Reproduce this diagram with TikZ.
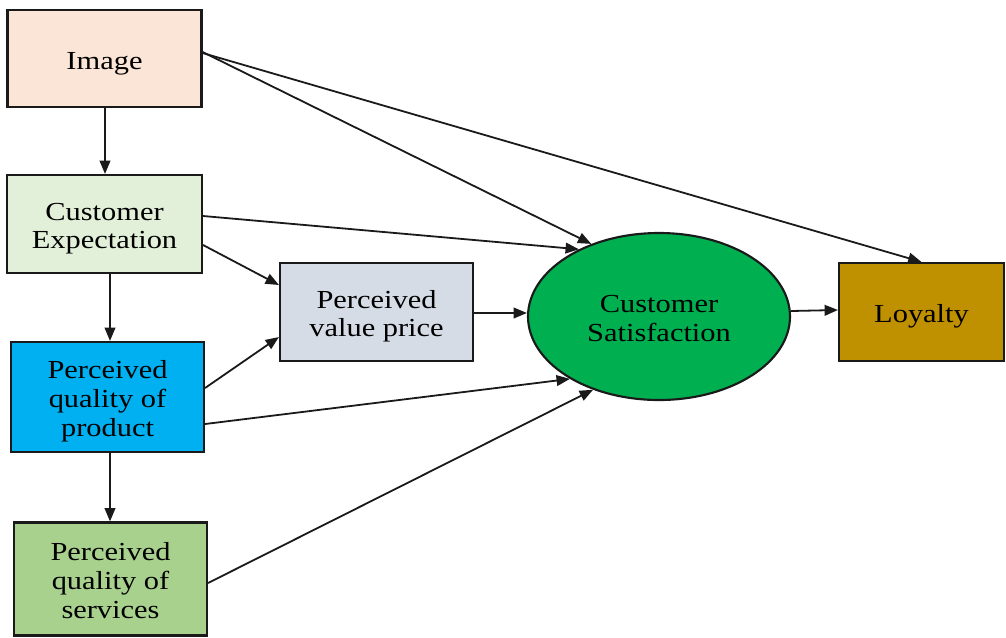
\documentclass[tikz,border=0pt]{standalone}
\usepackage{fontspec}
\setmainfont{Liberation Serif}[FakeStretch=1.17]
\usetikzlibrary{arrows.meta,shapes.geometric}
\definecolor{cimg}{HTML}{FBE5D6}
\definecolor{cexp}{HTML}{E2F0D9}
\definecolor{cprod}{HTML}{00B0F0}
\definecolor{cserv}{HTML}{A9D18E}
\definecolor{cvp}{HTML}{D6DCE5}
\definecolor{csat}{HTML}{00B050}
\definecolor{cloy}{HTML}{BF9000}
\definecolor{cline}{HTML}{1A1A1A}
\newcommand{\lbltxt}[1]{\raisebox{-3.6pt}[\height][\depth]{\begin{tabular}{@{}c@{}}#1\end{tabular}}}
\tikzset{
  box/.style={draw=cline, line width=1.6pt, rectangle, inner sep=0pt,
    font=\fontsize{19.5}{21.5}\selectfont},
  conn/.style={draw=cline, line width=1.35pt, -{Triangle[length=10pt,width=8pt]}}
}
\begin{document}
\begin{tikzpicture}[x=0.75pt,y=-0.75pt]
\useasboundingbox (0,0) rectangle (1006,637);
\node[box, fill=cimg, minimum width=0.75*194pt, minimum height=0.75*97pt] (img) at (104.5,58.5) {\lbltxt{Image}};
\node[box, fill=cexp, minimum width=0.75*195pt, minimum height=0.75*98pt] (exp) at (104.5,224) {\lbltxt{Customer\\Expectation}};
\node[box, fill=cprod, minimum width=0.75*193pt, minimum height=0.75*110pt] (prod) at (107.5,397) {\lbltxt{Perceived\\quality of\\product}};
\node[box, fill=cserv, minimum width=0.75*193pt, minimum height=0.75*113pt] (serv) at (110.5,579) {\lbltxt{Perceived\\quality of\\services}};
\node[box, fill=cvp, minimum width=0.75*193pt, minimum height=0.75*98pt] (vp) at (376.5,312) {\lbltxt{Perceived\\value price}};
\node[box, ellipse, fill=csat, minimum width=0.75*262pt, minimum height=0.75*167pt] (sat) at (659,316.5) {\lbltxt{Customer\\Satisfaction}};
\node[box, fill=cloy, minimum width=0.75*165pt, minimum height=0.75*98pt] (loy) at (921.5,312) {\lbltxt{Loyalty}};

\draw[conn] (img.south -| 105,0) -- (exp.north -| 105,0);
\draw[conn] (exp.south -| 110,0) -- (prod.north -| 110,0);
\draw[conn] (prod.south -| 110,0) -- (serv.north -| 110,0);

\draw[conn] (img.east |- 0,52) -- (sat.133);
\draw[conn] (img.east |- 0,53) -- (loy.north);
\draw[conn] (exp.east |- 0,216) -- (sat.140);
\draw[conn] (exp.east |- 0,245) -- (vp.west |- 0,285);
\draw[conn] (prod.east |- 0,388) -- (vp.west |- 0,337);
\draw[conn] (prod.east |- 0,424) -- (sat.215);
\draw[conn] (serv.east |- 0,583) -- (sat.228);
\draw[conn] (vp.east |- 0,313) -- (sat.west |- 0,313);
\draw[conn] (sat.east |- 0,311) -- (loy.west |- 0,310);
\end{tikzpicture}
\end{document}
